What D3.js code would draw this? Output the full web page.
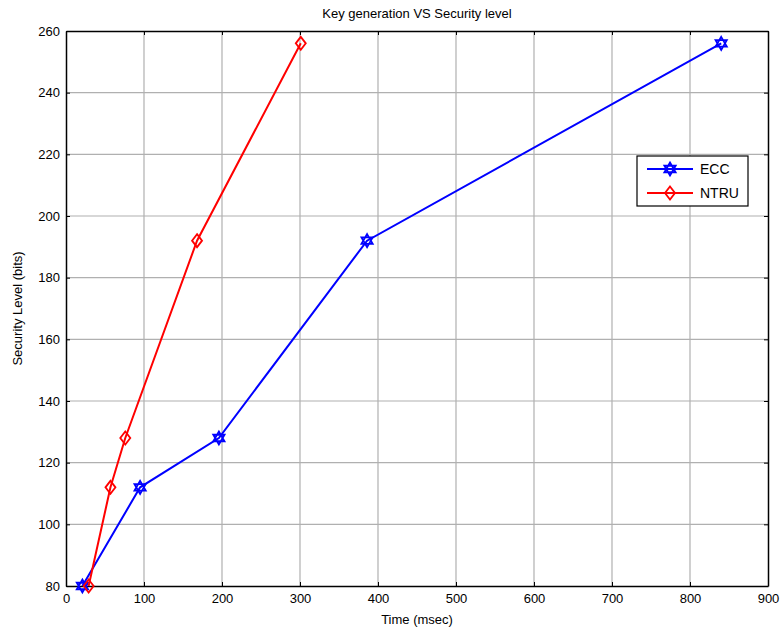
<!DOCTYPE html>
<html><head><meta charset="utf-8">
<script src="https://cdn.jsdelivr.net/npm/d3@7"></script>
<style>body{margin:0;background:#fff}svg{display:block}text{font-family:"Liberation Sans",Arial,sans-serif;fill:#000}</style>
</head><body>
<script>
const xTicks = [0,100,200,300,400,500,600,700,800,900];
const yTicks = [80,100,120,140,160,180,200,220,240,260];
const eccTime = [21, 95, 196, 386, 840];
const eccLevel = [80, 112, 128, 192, 256];
const ntruTime = [29, 57, 76, 168, 301];
const ntruLevel = [80, 112, 128, 192, 256];
const seriesNames = ["ECC", "NTRU"];

const W = 782, H = 631;
const L = 66, R = 768, T = 31, B = 586;
const svg = d3.select("body").append("svg").attr("width", W).attr("height", H);
const x = d3.scaleLinear().domain([0,900]).range([L,R]);
const y = d3.scaleLinear().domain([80,260]).range([B,T]);

// grid
svg.append("g").selectAll("line").data(xTicks.slice(1,-1)).join("line")
  .attr("x1",d=>x(d)).attr("x2",d=>x(d)).attr("y1",T).attr("y2",B)
  .attr("stroke","#b0b0b0").attr("stroke-width",1.2);
svg.append("g").selectAll("line").data(yTicks.slice(1,-1)).join("line")
  .attr("y1",d=>y(d)).attr("y2",d=>y(d)).attr("x1",L).attr("x2",R)
  .attr("stroke","#b0b0b0").attr("stroke-width",1.2);

// axes
const xa = svg.append("g").attr("transform",`translate(0,${B})`)
  .call(d3.axisBottom(x).tickValues(xTicks).tickSizeInner(-4).tickSizeOuter(0).tickPadding(8));
const xt = svg.append("g").attr("transform",`translate(0,${T})`)
  .call(d3.axisTop(x).tickValues(xTicks).tickSizeInner(-4).tickSizeOuter(0).tickFormat(""));
const ya = svg.append("g").attr("transform",`translate(${L},0)`)
  .call(d3.axisLeft(y).tickValues(yTicks).tickSizeInner(-4).tickSizeOuter(0).tickPadding(6));
const yr = svg.append("g").attr("transform",`translate(${R},0)`)
  .call(d3.axisRight(y).tickValues(yTicks).tickSizeInner(-4).tickSizeOuter(0).tickFormat(""));
[xa,xt,ya,yr].forEach(g=>{
  g.selectAll("path").attr("stroke","#000").attr("stroke-width",1.5);
  g.selectAll("line").attr("stroke","#000");
  g.selectAll("text").attr("font-size",13).attr("font-family","Liberation Sans, Arial, sans-serif").attr("fill","#000");
});

svg.append("text").attr("x",(L+R)/2).attr("y",18).attr("text-anchor","middle").attr("font-size",13).text("Key generation VS Security level");
svg.append("text").attr("x",(L+R)/2).attr("y",624).attr("text-anchor","middle").attr("font-size",13).text("Time (msec)");
svg.append("text").attr("transform",`translate(22,${(T+B)/2}) rotate(-90)`).attr("text-anchor","middle").attr("font-size",13).text("Security Level (bits)");

function hexagram(r){
  const pts=[];
  for(let k=0;k<2;k++){
    const p=[];
    for(let i=0;i<3;i++){const a=-Math.PI/2+k*Math.PI/3*1+i*2*Math.PI/3; p.push([r*Math.cos(a),r*Math.sin(a)]);}
    pts.push("M"+p.map(q=>q.join(",")).join("L")+"Z");
  }
  return pts.join("");
}
function diamond(rx,ry){return `M0,${-ry}L${rx},0L0,${ry}L${-rx},0Z`;}

const line = d3.line().x(d=>x(d[0])).y(d=>y(d[1]));
const series = [
  {name:seriesNames[0], color:"#0000ff", pts:d3.zip(eccTime,eccLevel), marker:hexagram(6.5)},
  {name:seriesNames[1], color:"#ff0000", pts:d3.zip(ntruTime,ntruLevel), marker:diamond(5,6.5)}
];
series.forEach(s=>{
  svg.append("path").datum(s.pts).attr("d",line).attr("fill","none").attr("stroke",s.color).attr("stroke-width",2);
  svg.append("g").selectAll("path").data(s.pts).join("path")
    .attr("transform",d=>`translate(${x(d[0])},${y(d[1])})`).attr("d",s.marker)
    .attr("fill","none").attr("stroke",s.color).attr("stroke-width",1.8);
});

// legend
const lg = svg.append("g");
lg.append("rect").attr("x",637).attr("y",156).attr("width",111).attr("height",50).attr("fill","#fff").attr("stroke","#000").attr("stroke-width",1.2);
series.forEach((s,i)=>{
  const yy = 169 + i*24;
  lg.append("line").attr("x1",647).attr("x2",693).attr("y1",yy).attr("y2",yy).attr("stroke",s.color).attr("stroke-width",2);
  lg.append("path").attr("transform",`translate(670,${yy})`).attr("d",s.marker).attr("fill","none").attr("stroke",s.color).attr("stroke-width",1.8);
  lg.append("text").attr("x",700).attr("y",yy+5).attr("font-size",14).text(s.name);
});
</script>
</body></html>
